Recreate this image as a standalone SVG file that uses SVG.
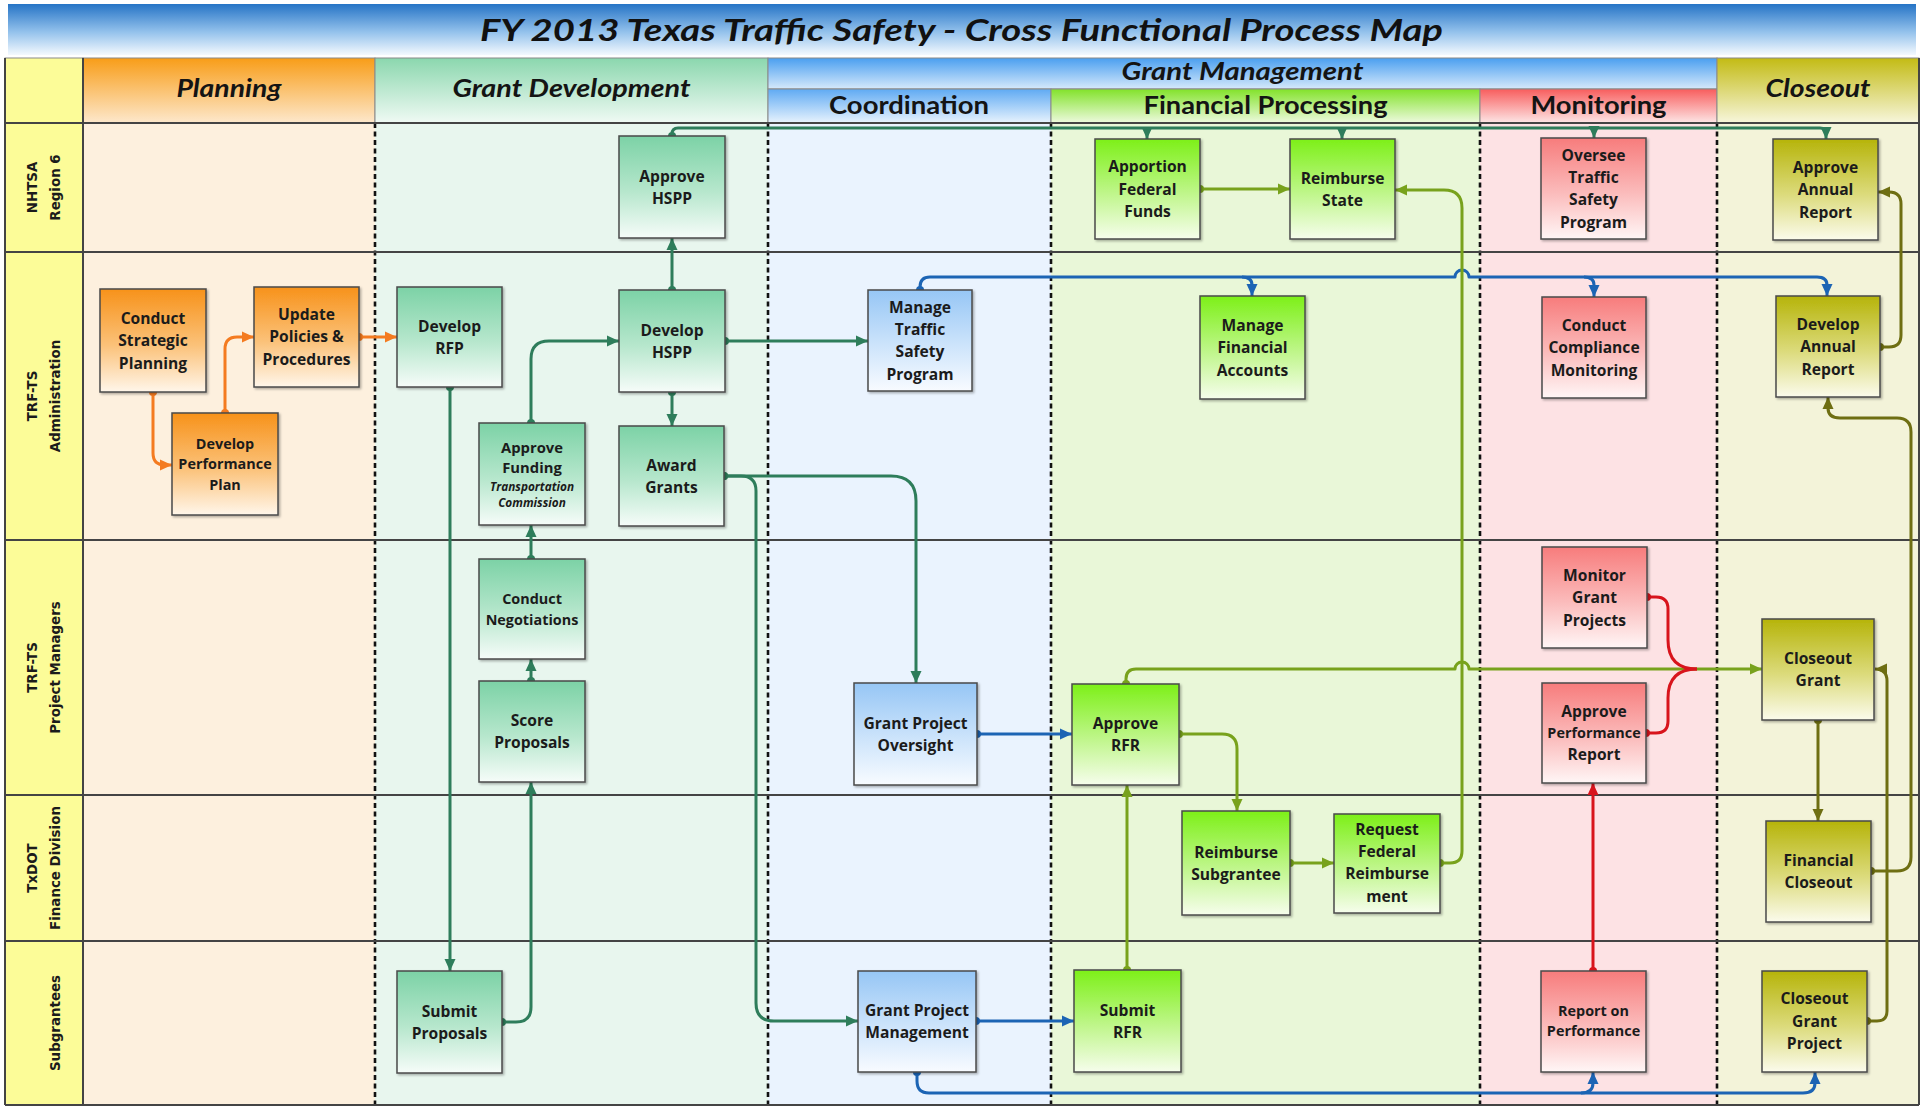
<svg xmlns="http://www.w3.org/2000/svg" width="1925" height="1107" viewBox="0 0 1925 1107">
<style>
.box{stroke:#4a4a4a;stroke-width:1.5;filter:url(#sh)}
.t{font-family:"Open Sans","Noto Sans",sans-serif;font-weight:bold;font-size:15.6px;fill:#1b1b1b;text-anchor:middle}
.s13{font-size:14.4px}
.ti{font-style:italic;font-size:11.8px}
.lane{font-family:"DejaVu Sans",Verdana,sans-serif;font-weight:bold;font-size:13.4px;fill:#1b1b1b;text-anchor:middle}
.hdr{font-family:Lato,"Open Sans",sans-serif;font-weight:bold;font-style:italic;font-size:25px;fill:#141414;text-anchor:middle}
.hdr2{font-family:Lato,"Open Sans",sans-serif;font-weight:bold;font-size:25px;fill:#141414;text-anchor:middle}
.title{font-family:Lato,"Open Sans",sans-serif;font-weight:bold;font-style:italic;font-size:31px;fill:#111;text-anchor:middle}
.hcell{stroke:#8a8a8a;stroke-width:1}
.div{stroke:#111;stroke-width:2.6;stroke-dasharray:5 3.5;fill:none}
.hl{stroke:#444;stroke-width:2;fill:none}
.c{fill:none;stroke-width:3;stroke-linejoin:round}
.or{stroke:#f47b20;marker-start:url(#dO);marker-end:url(#aO)}
.tl{stroke:#2e7d5b;marker-start:url(#dT);marker-end:url(#aT)}
.bl{stroke:#1c64b4;marker-start:url(#dB);marker-end:url(#aB)}
.fg{stroke:#78a21c;marker-start:url(#dF);marker-end:url(#aF)}
.rd{stroke:#d8141c;marker-start:url(#dR);marker-end:url(#aR)}
.ol{stroke:#6e6e12;marker-start:url(#dL);marker-end:url(#aL)}
.ne{marker-end:none}
.ns{marker-start:none}
</style>
<defs>
<filter id="sh" x="-10%" y="-10%" width="130%" height="130%"><feDropShadow dx="1.5" dy="1.5" stdDeviation="1" flood-color="#000" flood-opacity="0.3"/></filter>
<linearGradient id="gTitle" x1="0" y1="0" x2="0" y2="1"><stop offset="0" stop-color="#2674c6"/><stop offset="0.55" stop-color="#94c2ec"/><stop offset="1" stop-color="#f4f9fe"/></linearGradient>
<linearGradient id="hO" x1="0" y1="0" x2="0" y2="1"><stop offset="0" stop-color="#f89d18"/><stop offset="1" stop-color="#fde8cc"/></linearGradient>
<linearGradient id="hT" x1="0" y1="0" x2="0" y2="1"><stop offset="0" stop-color="#8bd7ae"/><stop offset="1" stop-color="#f0faf4"/></linearGradient>
<linearGradient id="hG" x1="0" y1="0" x2="0" y2="1"><stop offset="0" stop-color="#4a9ff0"/><stop offset="1" stop-color="#d6e9fb"/></linearGradient>
<linearGradient id="hB" x1="0" y1="0" x2="0" y2="1"><stop offset="0" stop-color="#5faaf3"/><stop offset="1" stop-color="#e8f3fd"/></linearGradient>
<linearGradient id="hF" x1="0" y1="0" x2="0" y2="1"><stop offset="0" stop-color="#82e22a"/><stop offset="1" stop-color="#eefadf"/></linearGradient>
<linearGradient id="hR" x1="0" y1="0" x2="0" y2="1"><stop offset="0" stop-color="#f85d5d"/><stop offset="1" stop-color="#fde6e6"/></linearGradient>
<linearGradient id="hL" x1="0" y1="0" x2="0" y2="1"><stop offset="0" stop-color="#c3bb14"/><stop offset="1" stop-color="#f7f6dc"/></linearGradient>
<linearGradient id="bO" x1="0" y1="0" x2="0" y2="1"><stop offset="0" stop-color="#f7921a"/><stop offset="0.55" stop-color="#fbc27a"/><stop offset="1" stop-color="#fff6ea"/></linearGradient>
<linearGradient id="bT" x1="0" y1="0" x2="0" y2="1"><stop offset="0" stop-color="#7cd2a6"/><stop offset="0.55" stop-color="#b7e7cd"/><stop offset="1" stop-color="#f6fcf9"/></linearGradient>
<linearGradient id="bB" x1="0" y1="0" x2="0" y2="1"><stop offset="0" stop-color="#96c6f5"/><stop offset="0.55" stop-color="#cde4fb"/><stop offset="1" stop-color="#f8fbff"/></linearGradient>
<linearGradient id="bF" x1="0" y1="0" x2="0" y2="1"><stop offset="0" stop-color="#7df018"/><stop offset="0.55" stop-color="#c0f68c"/><stop offset="1" stop-color="#f6fdec"/></linearGradient>
<linearGradient id="bR" x1="0" y1="0" x2="0" y2="1"><stop offset="0" stop-color="#f77c7c"/><stop offset="0.55" stop-color="#fbbcbc"/><stop offset="1" stop-color="#fff6f6"/></linearGradient>
<linearGradient id="bL" x1="0" y1="0" x2="0" y2="1"><stop offset="0" stop-color="#b6b40a"/><stop offset="0.55" stop-color="#dcdb7c"/><stop offset="1" stop-color="#fbfbec"/></linearGradient>
<marker id="aO" viewBox="0 0 12 12" markerWidth="12" markerHeight="12" refX="12" refY="6" orient="auto" markerUnits="userSpaceOnUse"><path d="M0,0.5 L12,6 L0,11.5 z" fill="#f47b20"/></marker>
<marker id="dO" viewBox="0 0 10 10" markerWidth="9" markerHeight="9" refX="5" refY="5" markerUnits="userSpaceOnUse"><circle cx="5" cy="5" r="4.5" fill="#f47b20"/></marker>
<marker id="aT" viewBox="0 0 12 12" markerWidth="12" markerHeight="12" refX="12" refY="6" orient="auto" markerUnits="userSpaceOnUse"><path d="M0,0.5 L12,6 L0,11.5 z" fill="#2e7d5b"/></marker>
<marker id="dT" viewBox="0 0 10 10" markerWidth="9" markerHeight="9" refX="5" refY="5" markerUnits="userSpaceOnUse"><circle cx="5" cy="5" r="4.5" fill="#2e7d5b"/></marker>
<marker id="aB" viewBox="0 0 12 12" markerWidth="12" markerHeight="12" refX="12" refY="6" orient="auto" markerUnits="userSpaceOnUse"><path d="M0,0.5 L12,6 L0,11.5 z" fill="#1c64b4"/></marker>
<marker id="dB" viewBox="0 0 10 10" markerWidth="9" markerHeight="9" refX="5" refY="5" markerUnits="userSpaceOnUse"><circle cx="5" cy="5" r="4.5" fill="#1c64b4"/></marker>
<marker id="aF" viewBox="0 0 12 12" markerWidth="12" markerHeight="12" refX="12" refY="6" orient="auto" markerUnits="userSpaceOnUse"><path d="M0,0.5 L12,6 L0,11.5 z" fill="#78a21c"/></marker>
<marker id="dF" viewBox="0 0 10 10" markerWidth="9" markerHeight="9" refX="5" refY="5" markerUnits="userSpaceOnUse"><circle cx="5" cy="5" r="4.5" fill="#78a21c"/></marker>
<marker id="aR" viewBox="0 0 12 12" markerWidth="12" markerHeight="12" refX="12" refY="6" orient="auto" markerUnits="userSpaceOnUse"><path d="M0,0.5 L12,6 L0,11.5 z" fill="#d8141c"/></marker>
<marker id="dR" viewBox="0 0 10 10" markerWidth="9" markerHeight="9" refX="5" refY="5" markerUnits="userSpaceOnUse"><circle cx="5" cy="5" r="4.5" fill="#d8141c"/></marker>
<marker id="aL" viewBox="0 0 12 12" markerWidth="12" markerHeight="12" refX="12" refY="6" orient="auto" markerUnits="userSpaceOnUse"><path d="M0,0.5 L12,6 L0,11.5 z" fill="#6e6e12"/></marker>
<marker id="dL" viewBox="0 0 10 10" markerWidth="9" markerHeight="9" refX="5" refY="5" markerUnits="userSpaceOnUse"><circle cx="5" cy="5" r="4.5" fill="#6e6e12"/></marker>
</defs>

<rect x="0" y="0" width="1925" height="1107" fill="#ffffff"/>

<g id="title">
<rect x="8" y="4" width="1908" height="51" fill="url(#gTitle)"/>
<text class="title" x="961.5" y="41" textLength="963" lengthAdjust="spacingAndGlyphs">FY 2013 Texas Traffic Safety - Cross Functional Process Map</text>
</g>

<g id="lane-bodies">
<rect x="83" y="123" width="292" height="982" fill="#fdf0de"/>
<rect x="375" y="123" width="393" height="982" fill="#e8f6ee"/>
<rect x="768" y="123" width="283" height="982" fill="#eaf3fe"/>
<rect x="1051" y="123" width="429" height="982" fill="#e9f7d8"/>
<rect x="1480" y="123" width="237" height="982" fill="#fde2e4"/>
<rect x="1717" y="123" width="202" height="982" fill="#f3f3d9"/>
<rect x="5" y="58" width="78" height="1047" fill="#fcfc98"/>
</g>

<g id="headers">
<rect class="hcell" x="5" y="58" width="78" height="65" fill="#fcfc98"/>
<rect class="hcell" x="83" y="58" width="292" height="65" fill="url(#hO)"/>
<text class="hdr" x="229" y="97" textLength="105" lengthAdjust="spacingAndGlyphs">Planning</text>
<rect class="hcell" x="375" y="58" width="393" height="65" fill="url(#hT)"/>
<text class="hdr" x="571.5" y="97" textLength="238" lengthAdjust="spacingAndGlyphs">Grant Development</text>
<rect class="hcell" x="768" y="58" width="949" height="31" fill="url(#hG)"/>
<text class="hdr" x="1242.5" y="80" textLength="242" lengthAdjust="spacingAndGlyphs">Grant Management</text>
<rect class="hcell" x="768" y="89" width="283" height="34" fill="url(#hB)"/>
<text class="hdr2" x="909" y="114" textLength="160" lengthAdjust="spacingAndGlyphs">Coordination</text>
<rect class="hcell" x="1051" y="89" width="429" height="34" fill="url(#hF)"/>
<text class="hdr2" x="1265.5" y="114" textLength="244" lengthAdjust="spacingAndGlyphs">Financial Processing</text>
<rect class="hcell" x="1480" y="89" width="237" height="34" fill="url(#hR)"/>
<text class="hdr2" x="1598.5" y="114" textLength="136" lengthAdjust="spacingAndGlyphs">Monitoring</text>
<rect class="hcell" x="1717" y="58" width="202" height="65" fill="url(#hL)"/>
<text class="hdr" x="1818" y="97" textLength="105" lengthAdjust="spacingAndGlyphs">Closeout</text>
</g>

<g id="lane-labels">
<text class="lane" transform="translate(37,187.5) rotate(-90)">NHTSA</text>
<text class="lane" transform="translate(60,187.5) rotate(-90)">Region 6</text>
<text class="lane" transform="translate(37,396) rotate(-90)">TRF-TS</text>
<text class="lane" transform="translate(60,396) rotate(-90)">Administration</text>
<text class="lane" transform="translate(37,667.5) rotate(-90)">TRF-TS</text>
<text class="lane" transform="translate(60,667.5) rotate(-90)">Project Managers</text>
<text class="lane" transform="translate(37,868) rotate(-90)">TxDOT</text>
<text class="lane" transform="translate(60,868) rotate(-90)">Finance Division</text>
<text class="lane" transform="translate(60,1023) rotate(-90)">Subgrantees</text>
</g>

<g id="grid">
<path class="div" d="M375,123 V1105 M768,123 V1105 M1051,123 V1105 M1480,123 V1105 M1717,123 V1105"/>
<path class="hl" d="M5,123 H1919 M5,252 H1919 M5,540 H1919 M5,795 H1919 M5,941 H1919 M5,1105 H1919"/>
<path class="hl" d="M5,58 V1105 M83,58 V1105 M1919,58 V1105"/>
</g>

<g id="connectors">
<path class="c or" d="M153,392 V453 Q153,465 165,465 H172"/>
<path class="c or" d="M225,413 V349 Q225,337 237,337 H254"/>
<path class="c or" d="M359,337 H397"/>
<path class="c tl" d="M672,136 V134 Q672,128 678,128 H1820 Q1826,128 1826,133 V139"/>
<path class="c tl ns" d="M1147,128 V139"/>
<path class="c tl ns" d="M1342,128 V139"/>
<path class="c tl ns" d="M1594,128 V138"/>
<path class="c tl" d="M672,290 V238"/>
<path class="c tl" d="M672,392 V426"/>
<path class="c tl" d="M531,423 V359 Q531,341 549,341 H619"/>
<path class="c tl" d="M725,341 H868"/>
<path class="c tl" d="M724,476 H891 Q916,476 916,501 V683"/>
<path class="c tl" d="M724,476 H741 Q756,476 756,491 V1003 Q756,1021 774,1021 H858"/>
<path class="c tl" d="M450,387 V971"/>
<path class="c tl" d="M502,1022 H516 Q531,1022 531,1007 V782"/>
<path class="c tl" d="M531,681 V659"/>
<path class="c tl" d="M531,559 V525"/>
<path class="c bl" d="M920,290 V287 Q920,277 930,277 H1455 A7,7 0 0 1 1469,277 H1817 Q1827,277 1827,285 V296"/>
<path class="c bl ns" d="M1242,277 Q1252,277 1252,285 V296"/>
<path class="c bl ns" d="M1584,277 Q1594,277 1594,285 V297"/>
<path class="c bl" d="M977,734 H1072"/>
<path class="c bl" d="M976,1021 H1074"/>
<path class="c bl" d="M917,1072 V1081 Q917,1093 929,1093 H1803 Q1815,1093 1815,1083 V1072"/>
<path class="c bl ns" d="M1581,1093 Q1593,1093 1593,1083 V1072"/>
<path class="c fg" d="M1200,189 H1290"/>
<path class="c fg" d="M1126,684 V679 Q1126,669 1136,669 H1455 A7,7 0 0 1 1469,669 H1762"/>
<path class="c fg" d="M1179,734 H1222 Q1237,734 1237,749 V811"/>
<path class="c fg" d="M1290,863 H1334"/>
<path class="c fg" d="M1440,863 H1450 Q1462,863 1462,851 V208 Q1462,190 1444,190 H1395"/>
<path class="c fg" d="M1127,970 V785"/>
<path class="c rd ne" d="M1647,597 H1656 Q1668,597 1668,609 V640 Q1668,669 1697,669"/>
<path class="c rd ne" d="M1646,733 H1656 Q1668,733 1668,721 V698 Q1668,669 1697,669"/>
<path class="c rd" d="M1593,971 V783"/>
<path class="c ol" d="M1818,720 V821"/>
<path class="c ol" d="M1867,1021 H1877 Q1887,1021 1887,1011 V681 Q1887,669 1875,669"/>
<path class="c ol" d="M1871,871 H1897 Q1911,871 1911,857 V432 Q1911,418 1897,418 H1840 Q1828,418 1828,408 V397"/>
<path class="c ol" d="M1880,347 H1889 Q1901,347 1901,335 V204 Q1901,192 1889,192 H1878"/>
</g>

<g id="n-approve-hspp"><rect class="box" x="619" y="136" width="106" height="102" fill="url(#bT)"/>
<text class="t"><tspan x="672" y="181.5">Approve</tspan><tspan x="672" y="203.8">HSPP</tspan></text></g>
<g id="n-apportion"><rect class="box" x="1095" y="139" width="105" height="100" fill="url(#bF)"/>
<text class="t"><tspan x="1147.5" y="172.4">Apportion</tspan><tspan x="1147.5" y="194.7">Federal</tspan><tspan x="1147.5" y="217">Funds</tspan></text></g>
<g id="n-reimburse-state"><rect class="box" x="1290" y="139" width="105" height="100" fill="url(#bF)"/>
<text class="t"><tspan x="1342.5" y="183.5">Reimburse</tspan><tspan x="1342.5" y="205.9">State</tspan></text></g>
<g id="n-oversee"><rect class="box" x="1541" y="138" width="105" height="101" fill="url(#bR)"/>
<text class="t"><tspan x="1593.5" y="160.7">Oversee</tspan><tspan x="1593.5" y="183">Traffic</tspan><tspan x="1593.5" y="205.3">Safety</tspan><tspan x="1593.5" y="227.6">Program</tspan></text></g>
<g id="n-approve-annual"><rect class="box" x="1773" y="139" width="105" height="101" fill="url(#bL)"/>
<text class="t"><tspan x="1825.5" y="172.9">Approve</tspan><tspan x="1825.5" y="195.2">Annual</tspan><tspan x="1825.5" y="217.5">Report</tspan></text></g>

<g id="n-conduct-strategic"><rect class="box" x="100" y="289" width="106" height="103" fill="url(#bO)"/>
<text class="t"><tspan x="153" y="323.9">Conduct</tspan><tspan x="153" y="346.2">Strategic</tspan><tspan x="153" y="368.5">Planning</tspan></text></g>
<g id="n-update-policies"><rect class="box" x="254" y="287" width="105" height="100" fill="url(#bO)"/>
<text class="t"><tspan x="306.5" y="319.9">Update</tspan><tspan x="306.5" y="342.2">Policies &amp;</tspan><tspan x="306.5" y="364.5">Procedures</tspan></text></g>
<g id="n-develop-perf"><rect class="box" x="172" y="413" width="106" height="102" fill="url(#bO)"/>
<text class="t s13"><tspan x="225" y="448.6">Develop</tspan><tspan x="225" y="469.3">Performance</tspan><tspan x="225" y="490">Plan</tspan></text></g>
<g id="n-develop-rfp"><rect class="box" x="397" y="287" width="105" height="100" fill="url(#bT)"/>
<text class="t"><tspan x="449.5" y="331.5">Develop</tspan><tspan x="449.5" y="353.9">RFP</tspan></text></g>
<g id="n-develop-hspp"><rect class="box" x="619" y="290" width="106" height="102" fill="url(#bT)"/>
<text class="t"><tspan x="672" y="335.5">Develop</tspan><tspan x="672" y="357.9">HSPP</tspan></text></g>
<g id="n-approve-funding"><rect class="box" x="479" y="423" width="106" height="102" fill="url(#bT)"/>
<text class="t" style="font-size:14.8px"><tspan x="532" y="452.5">Approve</tspan><tspan x="532" y="472.5">Funding</tspan><tspan class="ti" x="532" y="490.5">Transportation</tspan><tspan class="ti" x="532" y="507">Commission</tspan></text></g>
<g id="n-award-grants"><rect class="box" x="619" y="426" width="105" height="100" fill="url(#bT)"/>
<text class="t"><tspan x="671.5" y="470.5">Award</tspan><tspan x="671.5" y="492.8">Grants</tspan></text></g>
<g id="n-manage-traffic"><rect class="box" x="868" y="290" width="104" height="101" fill="url(#bB)"/>
<text class="t"><tspan x="920" y="312.7">Manage</tspan><tspan x="920" y="335">Traffic</tspan><tspan x="920" y="357.3">Safety</tspan><tspan x="920" y="379.6">Program</tspan></text></g>
<g id="n-manage-financial"><rect class="box" x="1200" y="296" width="105" height="103" fill="url(#bF)"/>
<text class="t"><tspan x="1252.5" y="330.9">Manage</tspan><tspan x="1252.5" y="353.2">Financial</tspan><tspan x="1252.5" y="375.5">Accounts</tspan></text></g>
<g id="n-compliance"><rect class="box" x="1542" y="297" width="104" height="101" fill="url(#bR)"/>
<text class="t"><tspan x="1594" y="330.9">Conduct</tspan><tspan x="1594" y="353.2">Compliance</tspan><tspan x="1594" y="375.5">Monitoring</tspan></text></g>
<g id="n-develop-annual"><rect class="box" x="1776" y="296" width="104" height="101" fill="url(#bL)"/>
<text class="t"><tspan x="1828" y="329.9">Develop</tspan><tspan x="1828" y="352.2">Annual</tspan><tspan x="1828" y="374.5">Report</tspan></text></g>

<g id="n-negotiations"><rect class="box" x="479" y="559" width="106" height="100" fill="url(#bT)"/>
<text class="t s13"><tspan x="532" y="603.7">Conduct</tspan><tspan x="532" y="624.7">Negotiations</tspan></text></g>
<g id="n-score"><rect class="box" x="479" y="681" width="106" height="101" fill="url(#bT)"/>
<text class="t"><tspan x="532" y="726">Score</tspan><tspan x="532" y="748.3">Proposals</tspan></text></g>
<g id="n-oversight"><rect class="box" x="854" y="683" width="123" height="102" fill="url(#bB)"/>
<text class="t"><tspan x="915.5" y="728.5">Grant Project</tspan><tspan x="915.5" y="750.8">Oversight</tspan></text></g>
<g id="n-approve-rfr"><rect class="box" x="1072" y="684" width="107" height="101" fill="url(#bF)"/>
<text class="t"><tspan x="1125.5" y="729">Approve</tspan><tspan x="1125.5" y="751.3">RFR</tspan></text></g>
<g id="n-monitor-grant"><rect class="box" x="1542" y="547" width="105" height="101" fill="url(#bR)"/>
<text class="t"><tspan x="1594.5" y="580.9">Monitor</tspan><tspan x="1594.5" y="603.2">Grant</tspan><tspan x="1594.5" y="625.5">Projects</tspan></text></g>
<g id="n-approve-perf"><rect class="box" x="1542" y="683" width="104" height="100" fill="url(#bR)"/>
<text class="t"><tspan x="1594" y="716.7">Approve</tspan><tspan class="s13" x="1594" y="738.3">Performance</tspan><tspan x="1594" y="760.2">Report</tspan></text></g>
<g id="n-closeout-grant"><rect class="box" x="1762" y="619" width="112" height="101" fill="url(#bL)"/>
<text class="t"><tspan x="1818" y="663.7">Closeout</tspan><tspan x="1818" y="685.7">Grant</tspan></text></g>

<g id="n-reimburse-sub"><rect class="box" x="1182" y="811" width="108" height="104" fill="url(#bF)"/>
<text class="t"><tspan x="1236" y="857.5">Reimburse</tspan><tspan x="1236" y="879.9">Subgrantee</tspan></text></g>
<g id="n-request-federal"><rect class="box" x="1334" y="814" width="106" height="99" fill="url(#bF)"/>
<text class="t"><tspan x="1387" y="834.9">Request</tspan><tspan x="1387" y="857.1">Federal</tspan><tspan x="1387" y="879.3">Reimburse</tspan><tspan x="1387" y="901.5">ment</tspan></text></g>
<g id="n-financial-closeout"><rect class="box" x="1766" y="821" width="105" height="101" fill="url(#bL)"/>
<text class="t"><tspan x="1818.5" y="865.7">Financial</tspan><tspan x="1818.5" y="887.5">Closeout</tspan></text></g>

<g id="n-submit-proposals"><rect class="box" x="397" y="971" width="105" height="102" fill="url(#bT)"/>
<text class="t"><tspan x="449.5" y="1016.5">Submit</tspan><tspan x="449.5" y="1038.8">Proposals</tspan></text></g>
<g id="n-project-mgmt"><rect class="box" x="858" y="971" width="118" height="101" fill="url(#bB)"/>
<text class="t"><tspan x="917" y="1016">Grant Project</tspan><tspan x="917" y="1038.3">Management</tspan></text></g>
<g id="n-submit-rfr"><rect class="box" x="1074" y="970" width="107" height="102" fill="url(#bF)"/>
<text class="t"><tspan x="1127.5" y="1015.5">Submit</tspan><tspan x="1127.5" y="1037.8">RFR</tspan></text></g>
<g id="n-report-perf"><rect class="box" x="1541" y="971" width="105" height="101" fill="url(#bR)"/>
<text class="t s13"><tspan x="1593.5" y="1016.3">Report on</tspan><tspan x="1593.5" y="1036.3">Performance</tspan></text></g>
<g id="n-closeout-project"><rect class="box" x="1762" y="971" width="105" height="101" fill="url(#bL)"/>
<text class="t"><tspan x="1814.5" y="1004.3">Closeout</tspan><tspan x="1814.5" y="1026.7">Grant</tspan><tspan x="1814.5" y="1049.1">Project</tspan></text></g>
</svg>
